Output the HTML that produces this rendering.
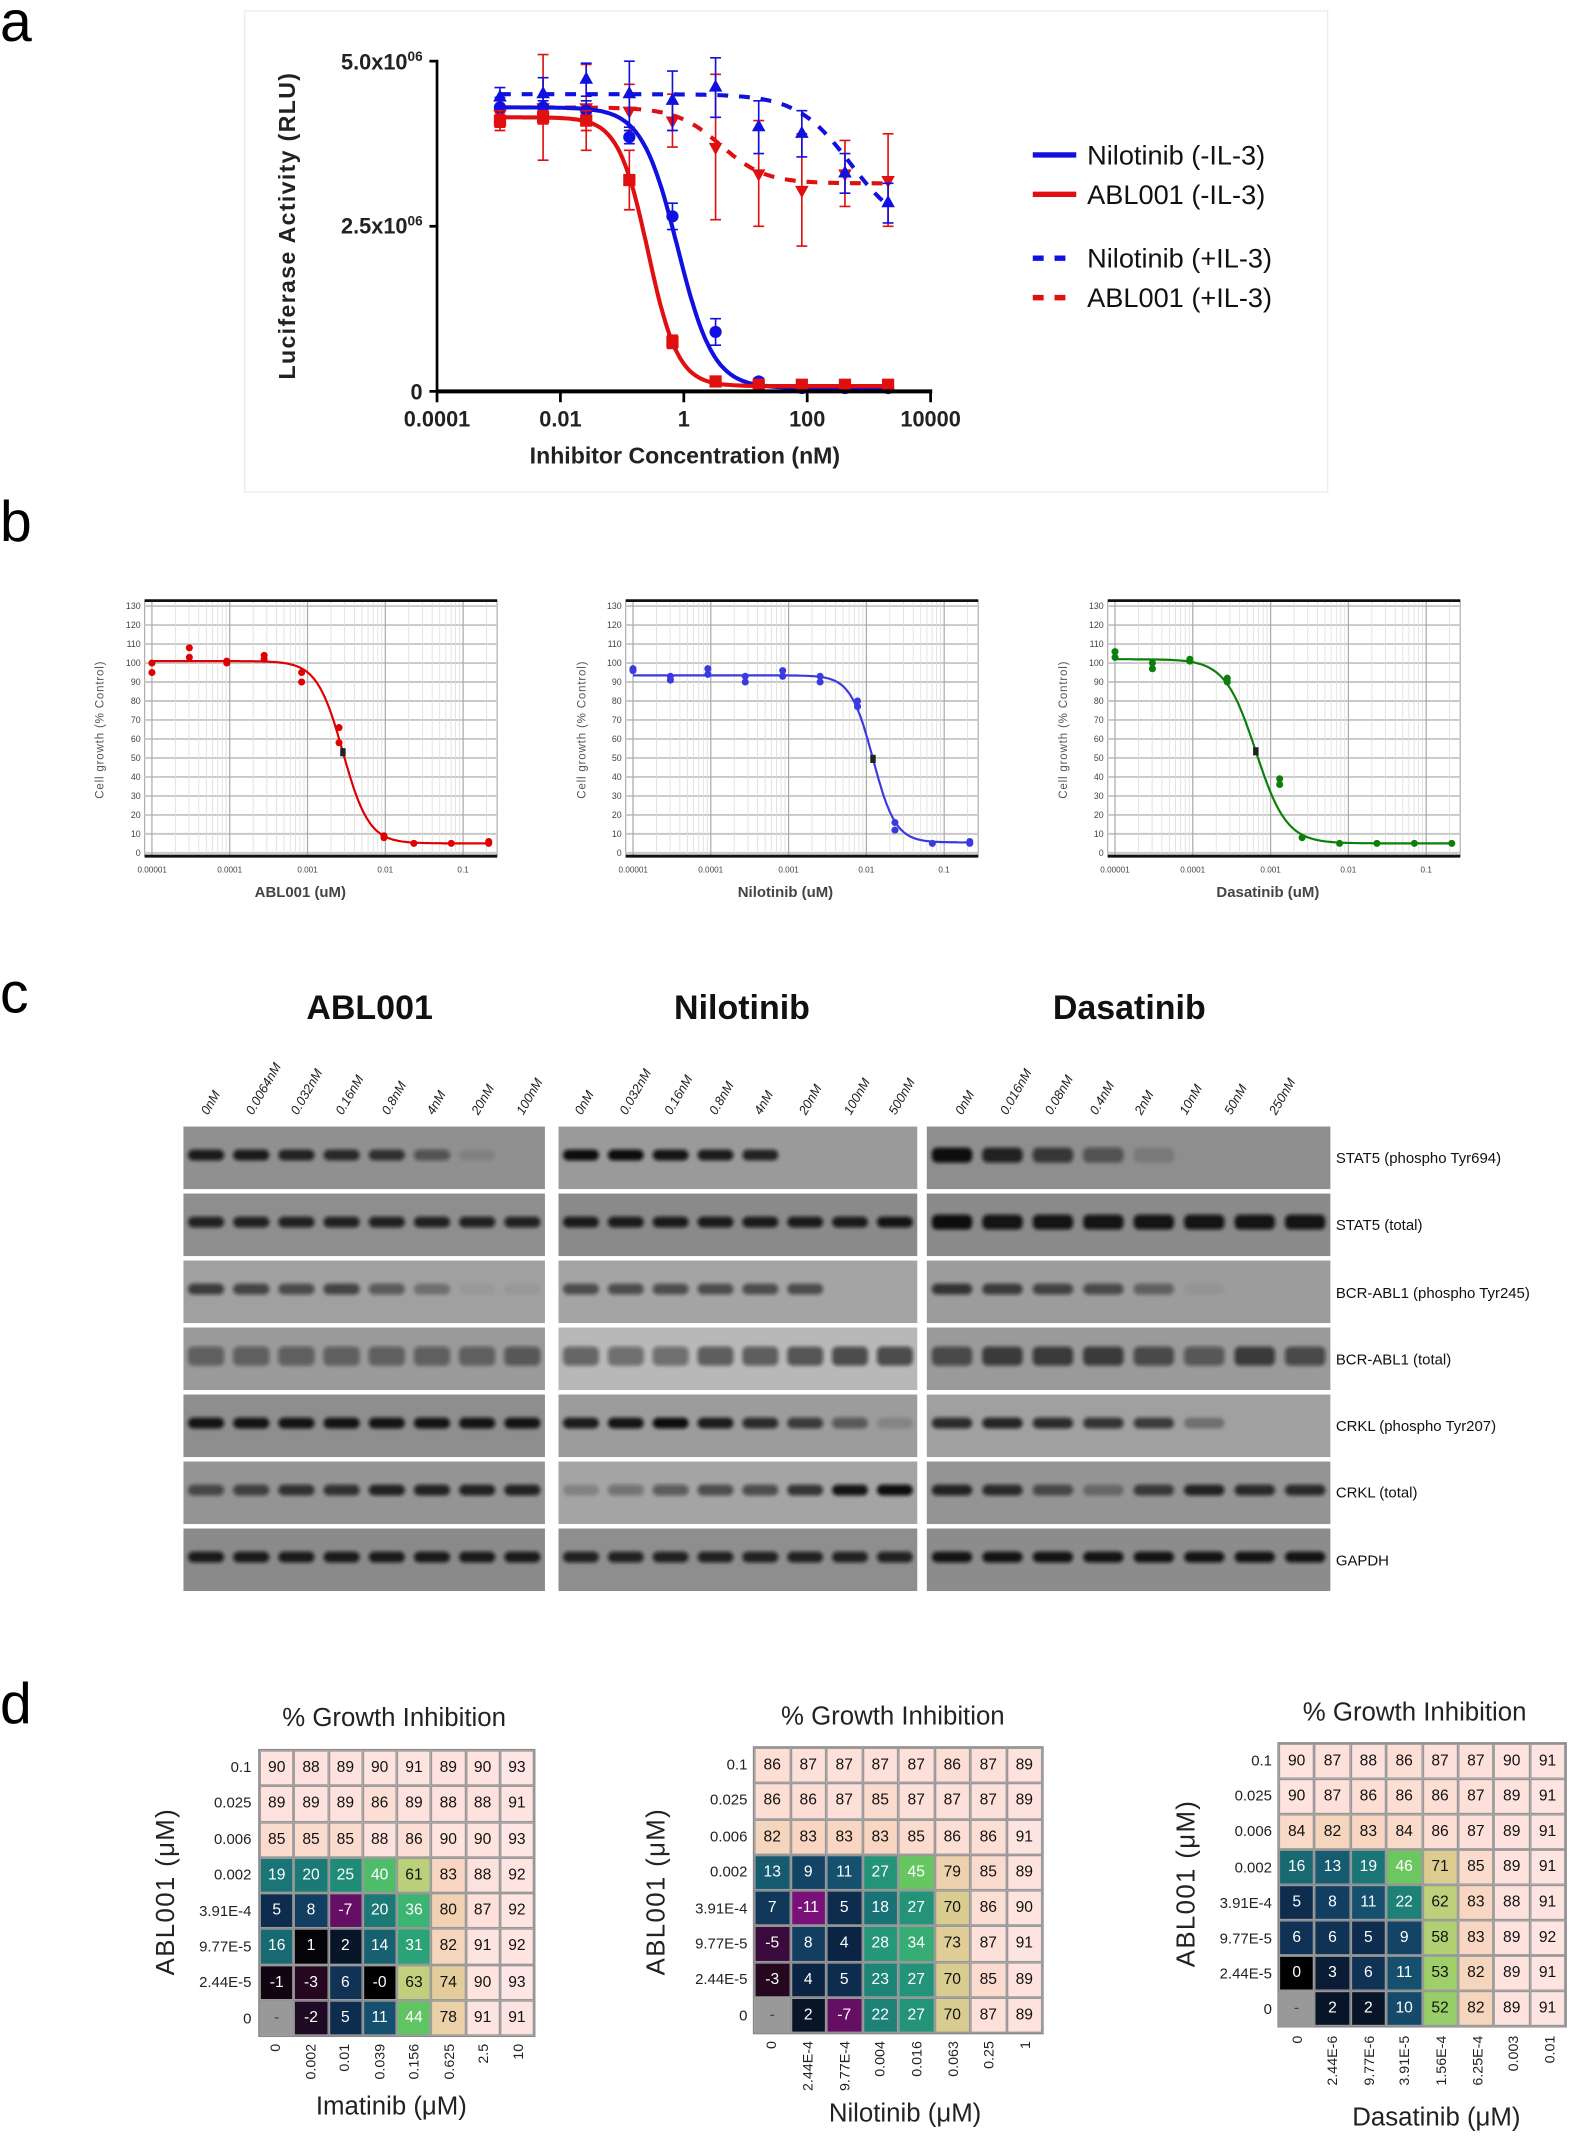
<!DOCTYPE html>
<html><head><meta charset="utf-8">
<style>
html,body{margin:0;padding:0;background:#fff;width:1575px;height:2140px;overflow:hidden}
#w{position:absolute;left:0;top:0;width:1159px;height:1575px;transform:scale(1.35893);transform-origin:0 0;font-family:"Liberation Sans",sans-serif}
svg{position:absolute;left:0;top:0}
.hm{position:absolute;display:grid;border:1px solid #888;box-sizing:border-box}
.hm div{display:flex;align-items:center;justify-content:center;font-size:11.5px;border:0.5px solid #999;box-sizing:border-box}
</style></head><body><div id="w">
<svg id="s" width="1159" height="1575" viewBox="0 0 1159 1575" font-family="Liberation Sans, sans-serif">
<defs><filter id="bl" x="-20%" y="-50%" width="140%" height="200%"><feGaussianBlur stdDeviation="1.3"/></filter></defs>
<text x="0" y="30" font-size="42">a</text>
<text x="0" y="398" font-size="42">b</text>
<text x="0" y="745" font-size="42">c</text>
<text x="0" y="1268" font-size="42">d</text>
<rect x="180" y="8" width="797" height="354" fill="none" stroke="#ececec"/>
<g id="pa"></g>
<line x1="321.6" y1="44" x2="321.6" y2="289" stroke="#000" stroke-width="2"/>
<line x1="321.6" y1="288" x2="686" y2="288" stroke="#000" stroke-width="3"/>
<g stroke="#000" stroke-width="2"><line x1="316" y1="45" x2="321" y2="45"/><line x1="316" y1="166.5" x2="321" y2="166.5"/><line x1="316" y1="288" x2="321" y2="288"/>
<line x1="321.6" y1="288" x2="321.6" y2="296"/><line x1="412.4" y1="288" x2="412.4" y2="296"/><line x1="503.2" y1="288" x2="503.2" y2="296"/><line x1="594" y1="288" x2="594" y2="296"/><line x1="684.8" y1="288" x2="684.8" y2="296"/></g>
<g font-size="16" text-anchor="end" font-weight="bold" fill="#222">
<text x="311" y="51">5.0x10<tspan font-size="10" dy="-6">06</tspan></text>
<text x="311" y="172">2.5x10<tspan font-size="10" dy="-6">06</tspan></text>
<text x="311" y="294">0</text></g>
<g font-size="16" text-anchor="middle" font-weight="bold" fill="#222">
<text x="321.6" y="314">0.0001</text><text x="412.4" y="314">0.01</text><text x="503.2" y="314">1</text><text x="594" y="314">100</text><text x="684.8" y="314">10000</text>
<text x="504" y="341" font-size="17">Inhibitor Concentration (nM)</text>
<text transform="translate(217,166) rotate(-90)" font-size="17" letter-spacing="1">Luciferase Activity (RLU)</text></g>
<g stroke-width="4"><line x1="760" y1="114" x2="792" y2="114" stroke="#1010e0"/><line x1="760" y1="143" x2="792" y2="143" stroke="#e01010"/>
<line x1="760" y1="190" x2="792" y2="190" stroke="#1010e0" stroke-dasharray="8,8"/><line x1="760" y1="219" x2="792" y2="219" stroke="#e01010" stroke-dasharray="8,8"/></g>
<g font-size="20" fill="#111"><text x="800" y="121">Nilotinib (-IL-3)</text><text x="800" y="150">ABL001 (-IL-3)</text><text x="800" y="197">Nilotinib (+IL-3)</text><text x="800" y="226">ABL001 (+IL-3)</text></g>
<g id="pb"></g>
<g id="btxt" font-size="6.5" fill="#444"></g>
<g font-size="8.5" fill="#555" text-anchor="middle" letter-spacing="0.6">
<text transform="translate(76,537) rotate(-90)">Cell growth (% Control)</text>
<text transform="translate(431,537) rotate(-90)">Cell growth (% Control)</text>
<text transform="translate(785,537) rotate(-90)">Cell growth (% Control)</text></g>
<g font-size="11" fill="#444" text-anchor="middle" font-weight="bold">
<text x="221" y="660">ABL001 (uM)</text><text x="578" y="660">Nilotinib  (uM)</text><text x="933" y="660">Dasatinib  (uM)</text></g>
<g font-size="6" fill="#444" text-anchor="middle">
<text x="112" y="642">0.00001</text><text x="169" y="642">0.0001</text><text x="226.3" y="642">0.001</text><text x="283.5" y="642">0.01</text><text x="340.7" y="642">0.1</text>
<text x="466" y="642">0.00001</text><text x="523" y="642">0.0001</text><text x="580.3" y="642">0.001</text><text x="637.5" y="642">0.01</text><text x="694.7" y="642">0.1</text>
<text x="820.5" y="642">0.00001</text><text x="877.7" y="642">0.0001</text><text x="935" y="642">0.001</text><text x="992.2" y="642">0.01</text><text x="1049.5" y="642">0.1</text></g>
<g font-size="25" font-weight="bold" text-anchor="middle" fill="#111">
<text x="272" y="750">ABL001</text><text x="546" y="750">Nilotinib</text><text x="831" y="750">Dasatinib</text></g>
<g id="pc"></g>
<g font-size="9.5" font-style="italic" fill="#222">
<text transform="translate(153,821) rotate(-60)">0nM</text><text transform="translate(186,821) rotate(-60)">0.0064nM</text><text transform="translate(219,821) rotate(-60)">0.032nM</text><text transform="translate(252,821) rotate(-60)">0.16nM</text><text transform="translate(286,821) rotate(-60)">0.8nM</text><text transform="translate(319,821) rotate(-60)">4nM</text><text transform="translate(352,821) rotate(-60)">20nM</text><text transform="translate(385,821) rotate(-60)">100nM</text>
<text transform="translate(428,821) rotate(-60)">0nM</text><text transform="translate(461,821) rotate(-60)">0.032nM</text><text transform="translate(494,821) rotate(-60)">0.16nM</text><text transform="translate(527,821) rotate(-60)">0.8nM</text><text transform="translate(560,821) rotate(-60)">4nM</text><text transform="translate(593,821) rotate(-60)">20nM</text><text transform="translate(626,821) rotate(-60)">100nM</text><text transform="translate(659,821) rotate(-60)">500nM</text>
<text transform="translate(708,821) rotate(-60)">0nM</text><text transform="translate(741,821) rotate(-60)">0.016nM</text><text transform="translate(774,821) rotate(-60)">0.08nM</text><text transform="translate(807,821) rotate(-60)">0.4nM</text><text transform="translate(840,821) rotate(-60)">2nM</text><text transform="translate(873,821) rotate(-60)">10nM</text><text transform="translate(906,821) rotate(-60)">50nM</text><text transform="translate(939,821) rotate(-60)">250nM</text></g>
<g font-size="11" fill="#111">
<text x="983" y="856">STAT5 (phospho Tyr694)</text><text x="983" y="905">STAT5 (total)</text><text x="983" y="955">BCR-ABL1 (phospho Tyr245)</text><text x="983" y="1004">BCR-ABL1 (total)</text><text x="983" y="1053">CRKL (phospho Tyr207)</text><text x="983" y="1102">CRKL (total)</text><text x="983" y="1152">GAPDH</text></g>
<g font-size="19" text-anchor="middle" fill="#222">
<text x="290" y="1270">% Growth Inhibition</text><text x="657" y="1269">% Growth Inhibition</text><text x="1041" y="1266">% Growth Inhibition</text>
<text transform="translate(128,1392) rotate(-90)" letter-spacing="1">ABL001 (μM)</text>
<text transform="translate(489,1392) rotate(-90)" letter-spacing="1">ABL001 (μM)</text>
<text transform="translate(879,1386) rotate(-90)" letter-spacing="1">ABL001 (μM)</text>
<text x="288" y="1556">Imatinib (μM)</text><text x="666" y="1561">Nilotinib (μM)</text><text x="1057" y="1564">Dasatinib (μM)</text></g>
<g font-size="11" fill="#222" text-anchor="end">
<text x="185" y="1304">0.1</text><text x="185" y="1330">0.025</text><text x="185" y="1357">0.006</text><text x="185" y="1383">0.002</text><text x="185" y="1410">3.91E-4</text><text x="185" y="1436">9.77E-5</text><text x="185" y="1462">2.44E-5</text><text x="185" y="1489">0</text>
<text x="550" y="1302">0.1</text><text x="550" y="1328">0.025</text><text x="550" y="1355">0.006</text><text x="550" y="1381">0.002</text><text x="550" y="1408">3.91E-4</text><text x="550" y="1434">9.77E-5</text><text x="550" y="1460">2.44E-5</text><text x="550" y="1487">0</text>
<text x="936" y="1299">0.1</text><text x="936" y="1325">0.025</text><text x="936" y="1351">0.006</text><text x="936" y="1378">0.002</text><text x="936" y="1404">3.91E-4</text><text x="936" y="1430">9.77E-5</text><text x="936" y="1456">2.44E-5</text><text x="936" y="1482">0</text></g>
<g font-size="10.5" fill="#222" text-anchor="end">
<text transform="translate(206,1504) rotate(-90)">0</text><text transform="translate(232,1504) rotate(-90)">0.002</text><text transform="translate(257,1504) rotate(-90)">0.01</text><text transform="translate(283,1504) rotate(-90)">0.039</text><text transform="translate(308,1504) rotate(-90)">0.156</text><text transform="translate(334,1504) rotate(-90)">0.625</text><text transform="translate(359,1504) rotate(-90)">2.5</text><text transform="translate(385,1504) rotate(-90)">10</text>
<text transform="translate(571,1502) rotate(-90)">0</text><text transform="translate(598,1502) rotate(-90)">2.44E-4</text><text transform="translate(625,1502) rotate(-90)">9.77E-4</text><text transform="translate(651,1502) rotate(-90)">0.004</text><text transform="translate(678,1502) rotate(-90)">0.016</text><text transform="translate(705,1502) rotate(-90)">0.063</text><text transform="translate(731,1502) rotate(-90)">0.25</text><text transform="translate(758,1502) rotate(-90)">1</text>
<text transform="translate(958,1498) rotate(-90)">0</text><text transform="translate(984,1498) rotate(-90)">2.44E-6</text><text transform="translate(1011,1498) rotate(-90)">9.77E-6</text><text transform="translate(1037,1498) rotate(-90)">3.91E-5</text><text transform="translate(1064,1498) rotate(-90)">1.56E-4</text><text transform="translate(1091,1498) rotate(-90)">6.25E-4</text><text transform="translate(1117,1498) rotate(-90)">0.003</text><text transform="translate(1144,1498) rotate(-90)">0.01</text></g>
</svg>
<div class="hm" style="left:190px;top:1287px;width:204px;height:212px;grid-template-columns:repeat(8,1fr);grid-template-rows:repeat(8,1fr)">
<div>90</div><div>88</div><div>89</div><div>90</div><div>91</div><div>89</div><div>90</div><div>93</div>
<div>89</div><div>89</div><div>89</div><div>86</div><div>89</div><div>88</div><div>88</div><div>91</div>
<div>85</div><div>85</div><div>85</div><div>88</div><div>86</div><div>90</div><div>90</div><div>93</div>
<div>19</div><div>20</div><div>25</div><div>40</div><div>61</div><div>83</div><div>88</div><div>92</div>
<div>5</div><div>8</div><div>-7</div><div>20</div><div>36</div><div>80</div><div>87</div><div>92</div>
<div>16</div><div>1</div><div>2</div><div>14</div><div>31</div><div>82</div><div>91</div><div>92</div>
<div>-1</div><div>-3</div><div>6</div><div>-0</div><div>63</div><div>74</div><div>90</div><div>93</div>
<div>-</div><div>-2</div><div>5</div><div>11</div><div>44</div><div>78</div><div>91</div><div>91</div>
</div>
<div class="hm" style="left:554px;top:1285px;width:214px;height:212px;grid-template-columns:repeat(8,1fr);grid-template-rows:repeat(8,1fr)">
<div>86</div><div>87</div><div>87</div><div>87</div><div>87</div><div>86</div><div>87</div><div>89</div>
<div>86</div><div>86</div><div>87</div><div>85</div><div>87</div><div>87</div><div>87</div><div>89</div>
<div>82</div><div>83</div><div>83</div><div>83</div><div>85</div><div>86</div><div>86</div><div>91</div>
<div>13</div><div>9</div><div>11</div><div>27</div><div>45</div><div>79</div><div>85</div><div>89</div>
<div>7</div><div>-11</div><div>5</div><div>18</div><div>27</div><div>70</div><div>86</div><div>90</div>
<div>-5</div><div>8</div><div>4</div><div>28</div><div>34</div><div>73</div><div>87</div><div>91</div>
<div>-3</div><div>4</div><div>5</div><div>23</div><div>27</div><div>70</div><div>85</div><div>89</div>
<div>-</div><div>2</div><div>-7</div><div>22</div><div>27</div><div>70</div><div>87</div><div>89</div>
</div>
<div class="hm" style="left:940px;top:1282px;width:213px;height:210px;grid-template-columns:repeat(8,1fr);grid-template-rows:repeat(8,1fr)">
<div>90</div><div>87</div><div>88</div><div>86</div><div>87</div><div>87</div><div>90</div><div>91</div>
<div>90</div><div>87</div><div>86</div><div>86</div><div>86</div><div>87</div><div>89</div><div>91</div>
<div>84</div><div>82</div><div>83</div><div>84</div><div>86</div><div>87</div><div>89</div><div>91</div>
<div>16</div><div>13</div><div>19</div><div>46</div><div>71</div><div>85</div><div>89</div><div>91</div>
<div>5</div><div>8</div><div>11</div><div>22</div><div>62</div><div>83</div><div>88</div><div>91</div>
<div>6</div><div>6</div><div>5</div><div>9</div><div>58</div><div>83</div><div>89</div><div>92</div>
<div>0</div><div>3</div><div>6</div><div>11</div><div>53</div><div>82</div><div>89</div><div>91</div>
<div>-</div><div>2</div><div>2</div><div>10</div><div>52</div><div>82</div><div>89</div><div>91</div>
</div>
</div>
<script>
var NS="http://www.w3.org/2000/svg";
function el(p,t,a){var e=document.createElementNS(NS,t);for(var k in a)e.setAttribute(k,a[k]);p.appendChild(e);return e;}
function sig(L,t,b,L50,h){return b+(t-b)/(1+Math.pow(10,h*(L-L50)));}
var pa=document.getElementById('pa');
function ax(L){return 321.6+(L+4)*45.4;} function ay(v){return 288-v/5*243;}
var Ls=[];for(var k=0;k<10;k++)Ls.push(-2.98+0.699*k);
var ser=[
{c:'#e01010',d:'8,8',p:[4.3,3.15,0.6,1.2],v:[4.2,4.3,4.3,4.25,4.1,3.7,3.3,3.05,3.3,3.2],e:[.2,.8,.65,.4,.4,1.1,.8,.85,.5,.7],m:'dt'},
{c:'#1010e0',d:'8,8',p:[4.5,2.4,2.7,1.0],v:[4.45,4.5,4.72,4.5,4.4,4.6,4.0,3.9,3.3,2.85],e:[.15,.25,.25,.5,.45,.45,.4,.35,.3,.3],m:'ut'},
{c:'#1010e0',d:'',p:[4.3,0.05,-0.1,1.5],v:[4.3,4.3,4.25,3.85,2.65,0.9,0.15,0.05,0.05,0.05],e:[.15,.1,.15,.1,.2,.2,.05,.05,.05,.05],m:'c'},
{c:'#e01010',d:'',p:[4.15,0.08,-0.58,1.8],v:[4.1,4.15,4.1,3.2,0.75,0.15,0.1,0.1,0.1,0.1],e:[.15,.1,.15,.45,.1,.05,.05,.05,.05,.05],m:'s'}];
ser.forEach(function(s){
 var d='';for(var L=Ls[0];L<=Ls[9]+0.001;L+=0.02){d+=(d?'L':'M')+ax(L).toFixed(1)+','+ay(sig(L,s.p[0],s.p[1],s.p[2],s.p[3])).toFixed(1);}
 el(pa,'path',{d:d,fill:'none',stroke:s.c,'stroke-width':3,'stroke-dasharray':s.d});
 s.v.forEach(function(v,i){var x=ax(Ls[i]),y1=ay(v+s.e[i]),y2=ay(v-s.e[i]);
  el(pa,'path',{d:'M'+x+','+y1+'V'+y2+'M'+(x-4)+','+y1+'h8M'+(x-4)+','+y2+'h8',stroke:s.c,'stroke-width':1.2,fill:'none'});
  var y=ay(v);
  if(s.m=='c')el(pa,'circle',{cx:x,cy:y,r:4.5,fill:s.c});
  else if(s.m=='s')el(pa,'rect',{x:x-4.5,y:y-4.5,width:9,height:9,fill:s.c});
  else if(s.m=='ut')el(pa,'path',{d:'M'+x+','+(y-6)+'l5,9h-10z',fill:s.c});
  else el(pa,'path',{d:'M'+x+','+(y+6)+'l5,-9h-10z',fill:s.c});
 });
});
var pb=document.getElementById('pb'),bt=document.getElementById('btxt');
var bx=[111.8,465.8,820.5];
var bcol=['#e00000','#3a3ae0','#0a800a'];
var bp=[[101,5,-2.545,2.6],[93.5,5.5,-1.915,3],[102,5,-3.19,2.2]];
var bd=[[[100,95],[108,103],[101,100],[104,102],[95,90],[66,58],[9,8],[5],[5],[6,5]],
[[97,96],[93,91],[97,94],[93,90],[96,93],[93,90],[80,77],[16,12],[5],[6,5]],
[[106,103],[100,97],[102,101],[92,90],[39,36],[8],[5],[5],[5],[5]]];
var bxk=[[0,1,2,3,4,5,6.2,7,8,9],[0,1,2,3,4,5,6,7,8,9],[0,1,2,3,4.4,5,6,7,8,9]];
var blk=[-2.545,-1.915,-3.19];
function by(v){return 627.6-v*1.397;}
for(var p=0;p<3;p++){
 var x0=bx[p],L0=x0-5.3,R=x0+254;
 el(pb,'rect',{x:L0,y:441.5,width:R-L0,height:189,fill:'#fff',stroke:'#888','stroke-width':0.6});
 for(var v=0;v<=130;v+=10){el(pb,'line',{x1:L0,x2:R,y1:by(v),y2:by(v),stroke:'#c8c8c8','stroke-width':1.4});
   var t=el(bt,'text',{x:L0-3,y:by(v)+2.3,'text-anchor':'end'});t.textContent=v;}
 for(var d=-5;d<0;d++)for(var m=1;m<10;m++){var x=x0+(d+5+Math.log10(m))*57.25;if(x>R)break;
   el(pb,'line',{x1:x,x2:x,y1:441.5,y2:630,stroke:m==1?'#aaa':'#ddd','stroke-width':m==1?0.9:0.6});}
 el(pb,'line',{x1:L0,x2:R,y1:442,y2:442,stroke:'#111','stroke-width':2});
 el(pb,'line',{x1:L0,x2:R,y1:630,y2:630,stroke:'#111','stroke-width':2.2});
 var q=bp[p],dd='';
 for(var L=-5;L<=-5+9*0.481+0.001;L+=0.02){dd+=(dd?'L':'M')+(x0+(L+5)*57.25).toFixed(1)+','+by(sig(L,q[0],q[1],q[2],q[3])).toFixed(1);}
 el(pb,'path',{d:dd,fill:'none',stroke:bcol[p],'stroke-width':1.6});
 bd[p].forEach(function(a,i){var x=x0+bxk[p][i]*0.481*57.25;a.forEach(function(v){el(pb,'circle',{cx:x,cy:by(v),r:2.6,fill:bcol[p]});});});
 var xb=x0+(blk[p]+5)*57.25;el(pb,'rect',{x:xb-2,y:by(sig(blk[p],q[0],q[1],q[2],q[3]))-3,width:4,height:6,fill:'#222'});
}
var pc=document.getElementById('pc');
var panels=[[135,401],[411,675],[682,979]];
var rowsY=[829,878.3,927.6,976.9,1026.2,1075.5,1124.8];
var bg=[['#909090','#8e8e8e','#a0a0a0','#9a9a9a','#8e8e8e','#949494','#8a8a8a'],
['#9a9a9a','#8a8a8a','#a4a4a4','#b8b8b8','#9c9c9c','#a4a4a4','#8e8e8e'],
['#8e8e8e','#8a8a8a','#9c9c9c','#9a9a9a','#a0a0a0','#949494','#8c8c8c']];
var I=[
[[.9,.9,.85,.8,.75,.5,.1,0],[.85,.85,.85,.85,.85,.85,.85,.85],[.7,.65,.6,.65,.5,.3,.05,.05],[.45,.45,.45,.45,.45,.45,.45,.5],[.95,.95,.95,.95,.95,.95,.95,.95],[.6,.65,.75,.75,.85,.85,.85,.85],[.9,.9,.9,.9,.9,.9,.9,.9]],
[[1,1,.95,.9,.85,0,0,0],[.9,.9,.9,.9,.9,.9,.9,.95],[.6,.6,.6,.6,.6,.6,0,0],[.5,.45,.45,.55,.55,.6,.65,.65],[.9,.95,1,.9,.8,.7,.5,.15],[.2,.35,.5,.6,.6,.75,.95,1],[.85,.85,.85,.85,.85,.85,.85,.85]],
[[1,.85,.7,.5,.15,0,0,0],[1,.95,.95,.95,.95,.95,.95,.95],[.75,.7,.65,.6,.45,.05,0,0],[.6,.7,.7,.7,.6,.5,.7,.6],[.8,.85,.8,.75,.7,.3,0,0],[.85,.8,.6,.3,.7,.85,.8,.8],[.95,.95,.95,.95,.95,.95,.95,.95]]];
for(var p=0;p<3;p++){var a=panels[p][0],b=panels[p][1],w=(b-a)/8;
 for(var r=0;r<7;r++){var y=rowsY[r];
  el(pc,'rect',{x:a,y:y,width:b-a,height:46,fill:bg[p][r]});
  for(var l=0;l<8;l++){var it=I[p][r][l];if(it<=0)continue;var cx=a+w*(l+0.5);
   var h=(r==3)?14:((p==2&&(r==0||r==1))?11:8);
   el(pc,'rect',{x:cx-w*0.4,y:y+21-h/2,width:w*0.8,height:h,rx:4,fill:'#101010','fill-opacity':it,filter:'url(#bl)'});}
 }}
var st=[[-11,'#7a107a'],[-7,'#640f64'],[-5,'#3a0a3c'],[-3,'#250820'],[-2,'#1e0a24'],[-1,'#100510'],[0,'#000000'],[1,'#030308'],[2,'#081428'],[4,'#0c2444'],[5,'#0e2c4e'],[8,'#123e62'],[11,'#15506e'],[14,'#17606f'],[19,'#1a7676'],[25,'#1f8c78'],[30,'#28a07a'],[36,'#3cb472'],[45,'#66c660'],[53,'#9fcf68'],[62,'#bfd07c'],[71,'#dccc92'],[78,'#ecd0a8'],[83,'#f8d6c2'],[87,'#fde0da'],[93,'#fee6e4']];
function hx(c){return [parseInt(c.substr(1,2),16),parseInt(c.substr(3,2),16),parseInt(c.substr(5,2),16)];}
function cm(v){if(v<=st[0][0])return st[0][1];for(var i=1;i<st.length;i++){if(v<=st[i][0]){var a=hx(st[i-1][1]),b=hx(st[i][1]),t=(v-st[i-1][0])/(st[i][0]-st[i-1][0]);return 'rgb('+[0,1,2].map(function(k){return Math.round(a[k]+(b[k]-a[k])*t);}).join(',')+')';}}return st[st.length-1][1];}
document.querySelectorAll('.hm div').forEach(function(d){var s=d.textContent.trim();
 if(s=='-'){d.style.background='#999';d.style.color='#444';return;}
 var v=parseFloat(s);d.style.background=cm(v);d.style.color=v<50?'#fff':'#111';});
</script>
</body></html>
